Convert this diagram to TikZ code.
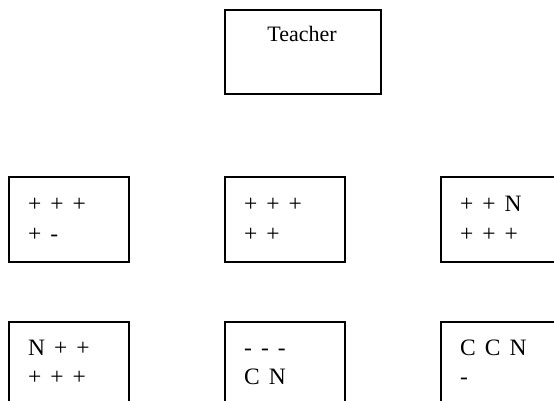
\documentclass[tikz,border=0pt]{standalone}
\usepackage{fontspec}
\setmainfont{Liberation Serif}
\begin{document}
\begin{tikzpicture}[x=1pt,y=-1pt,
  box/.style={draw=black,line width=1.9pt,rectangle,inner sep=0pt,anchor=north west},
  cell/.style={box,minimum width=120pt,minimum height=85pt},
  txt/.style={anchor=base west,inner sep=0pt,font=\fontsize{23.5}{28}\selectfont,
    execute at begin node={\spaceskip=9pt plus 0pt minus 0pt\relax}}]
\useasboundingbox (0,0) rectangle (554,400);
\clip (0,0) rectangle (554,400);
\node[box,minimum width=156pt,minimum height=84pt] (teacher) at (224,9) {};
\node[anchor=base,inner sep=0pt,font=\fontsize{22}{26}\selectfont] (tt) at (302,41) {Teacher};
% row 1
\node[cell] (b1) at (8,176) {};
\node[cell] (b2) at (224,176) {};
\node[cell] (b3) at (440,176) {};
\node[txt] (b1a) at (28,211) {+ + +};
\node[txt] (b1b) at (28,241) {+ -};
\node[txt] (b2a) at (244,211) {+ + +};
\node[txt] (b2b) at (244,241) {+ +};
\node[txt] (b3a) at (460,211) {+ + N};
\node[txt] (b3b) at (460,241) {+ + +};
% row 2
\node[cell] (c1) at (8,321) {};
\node[cell] (c2) at (224,321) {};
\node[cell] (c3) at (440,321) {};
\node[txt] (c1a) at (28,355) {N + +};
\node[txt] (c1b) at (28,384) {+ + +};
\node[txt] (c2a) at (244,355) {- - -};
\node[txt] (c2b) at (244,384) {C N};
\node[txt] (c3a) at (460,355) {C C N};
\node[txt] (c3b) at (460,384) {-};
\end{tikzpicture}
\end{document}
